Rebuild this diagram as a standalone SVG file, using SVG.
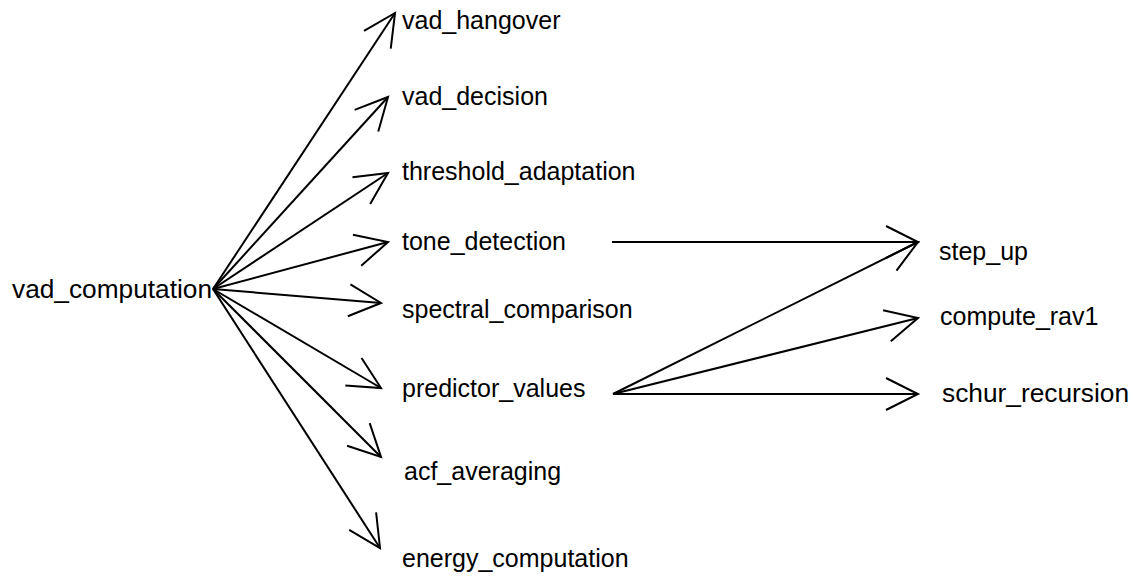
<svg xmlns="http://www.w3.org/2000/svg" width="1140" height="581" viewBox="0 0 1140 581">
<defs>
<marker id="open" markerUnits="userSpaceOnUse" markerWidth="40" markerHeight="40" viewBox="-36 -20 40 40" refX="0" refY="0" orient="auto">
<path d="M-32,-16 L0,0 L-32,16" fill="none" stroke="#000" stroke-width="2"/>
</marker>
</defs>
<style>
text{font-family:"Liberation Sans",Arial,sans-serif;font-size:25px;fill:#000}
.e{fill:none;stroke:#000;stroke-width:2;marker-end:url(#open)}
</style>
<rect width="1140" height="581" fill="#fff"/>
<g id="connectors">
<line class="e" x1="213" y1="289" x2="395" y2="13"/>
<line class="e" x1="213" y1="289" x2="388" y2="97"/>
<line class="e" x1="213" y1="289" x2="388" y2="173"/>
<line class="e" x1="213" y1="289" x2="388" y2="242"/>
<line class="e" x1="213" y1="289" x2="381" y2="303"/>
<line class="e" x1="213" y1="289" x2="381" y2="388"/>
<line class="e" x1="213" y1="289" x2="381" y2="457"/>
<line class="e" x1="213" y1="289" x2="380" y2="548"/>
<line class="e" x1="612" y1="242" x2="918" y2="242"/>
<line class="e" x1="613" y1="394" x2="918" y2="242"/>
<line class="e" x1="613" y1="394" x2="918" y2="318"/>
<line class="e" x1="613" y1="394" x2="918" y2="394"/>
</g>
<g id="vad_computation"><text x="12" y="298" textLength="200" lengthAdjust="spacingAndGlyphs">vad_computation</text></g>
<g id="vad_hangover"><text x="402" y="29">vad_hangover</text></g>
<g id="vad_decision"><text x="402" y="105">vad_decision</text></g>
<g id="threshold_adaptation"><text x="402" y="180">threshold_adaptation</text></g>
<g id="tone_detection"><text x="402" y="250">tone_detection</text></g>
<g id="spectral_comparison"><text x="402" y="318">spectral_comparison</text></g>
<g id="predictor_values"><text x="402" y="397">predictor_values</text></g>
<g id="acf_averaging"><text x="404" y="480">acf_averaging</text></g>
<g id="energy_computation"><text x="402" y="567">energy_computation</text></g>
<g id="step_up"><text x="939" y="260">step_up</text></g>
<g id="compute_rav1"><text x="940" y="325">compute_rav1</text></g>
<g id="schur_recursion"><text x="942" y="402" textLength="187" lengthAdjust="spacingAndGlyphs">schur_recursion</text></g>
</svg>
